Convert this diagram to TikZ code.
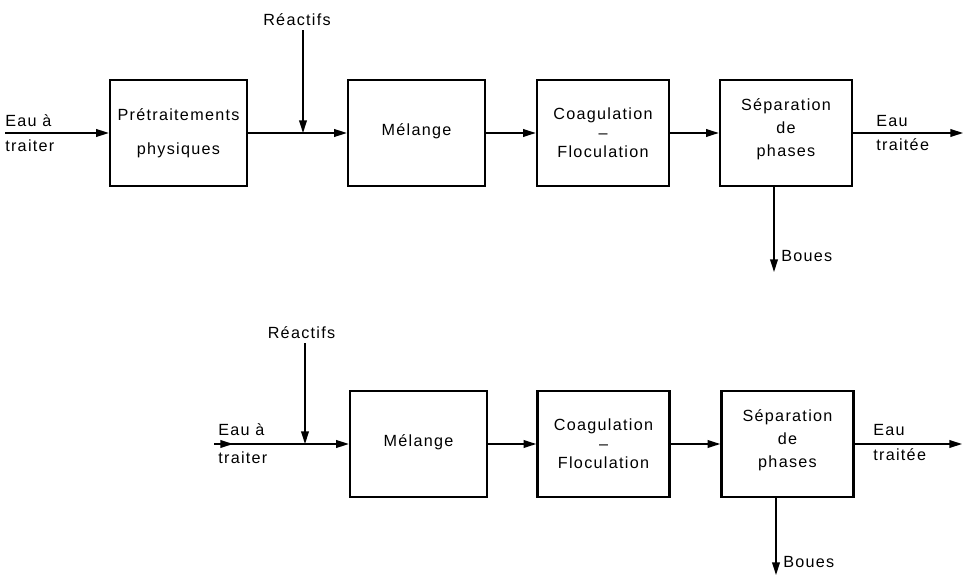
\documentclass[tikz,border=0pt]{standalone}
\usepackage{fontspec}
\setmainfont{Liberation Sans}[LetterSpace=8]
\usetikzlibrary{arrows.meta}

\begin{document}
\begin{tikzpicture}[x=0.025cm, y=-0.025cm,
  box/.style={draw, line width=1.8pt, minimum height=2.65cm, align=center,
              font=\fontsize{11.5}{13.5}\selectfont},
  flow/.style={line width=1pt, -{Triangle[length=9pt,width=5.5pt]}},
  lbl/.style={font=\fontsize{11.5}{13.5}\selectfont, inner sep=0pt}]
\useasboundingbox (0,0) rectangle (965,576);

% upper line
\node[box, minimum width=3.42cm] (pre) at (178.5,133) {Prétraitements\\[11pt]physiques};
\node[box, minimum width=3.42cm] (mel) at (416.5,133) {Mélange\\[-8pt]};
\node[box, minimum width=3.3cm] (coag) at (603,133) {Coagulation\\--\\Floculation};
\node[box, minimum width=3.3cm] (sep) at (786,133) {Séparation\\[3pt]de\\[3pt]phases\\[-6pt]};

\coordinate (in1) at (5,133);
\coordinate (j1) at (303,133);
\coordinate (out1) at (963,133);
\coordinate (b1) at (774,272);

\node[lbl, anchor=west] (eau1) at (5,121) {Eau à};
\node[lbl, anchor=west] (trt1) at (5,146) {traiter};
\node[lbl] (reac1) at (297,20) {Réactifs};
\node[lbl, anchor=west] (eaut1) at (876,121) {Eau};
\node[lbl, anchor=west] (tee1) at (876,145) {traitée};
\node[lbl, anchor=west] (boues1) at (781,256) {Boues};

\draw[flow] (in1) -- (pre);
\draw[flow] (pre) -- (mel);
\draw[flow] (reac1.south -| j1) ++(0,4) -- (j1);
\draw[flow] (mel) -- (coag);
\draw[flow] (coag) -- (sep);
\draw[flow] (sep) -- (out1);
\draw[flow] (sep.south -| b1) -- (b1);

% lower line
\node[box, minimum width=3.42cm] (mel2) at (418.5,444) {Mélange\\[-8pt]};
\node[box, minimum width=3.3cm] (coag2) at (603.5,444) {Coagulation\\--\\Floculation};
\node[box, minimum width=3.3cm] (sep2) at (787.5,444) {Séparation\\[3pt]de\\[3pt]phases\\[-6pt]};

\coordinate (in2) at (214,444);
\coordinate (j2) at (305,444);
\coordinate (out2) at (962,444);
\coordinate (b2) at (776,575);

\node[lbl, anchor=west] (eau2) at (218,430) {Eau à};
\node[lbl, anchor=west] (trt2) at (218,458) {traiter};
\node[lbl] (reac2) at (301.5,333) {Réactifs};
\node[lbl, anchor=west] (eaut2) at (873,430) {Eau};
\node[lbl, anchor=west] (tee2) at (873,455) {traitée};
\node[lbl, anchor=west] (boues2) at (783,562) {Boues};

\draw[flow] (in2) -- ++(19,0);
\draw[flow] (in2) -- (mel2);
\draw[flow] (reac2.south -| j2) ++(0,4) -- (j2);
\draw[flow] (mel2) -- (coag2);
\draw[flow] (coag2) -- (sep2);
\draw[flow] (sep2) -- (out2);
\draw[flow] (sep2.south -| b2) -- (b2);
\end{tikzpicture}
\end{document}
